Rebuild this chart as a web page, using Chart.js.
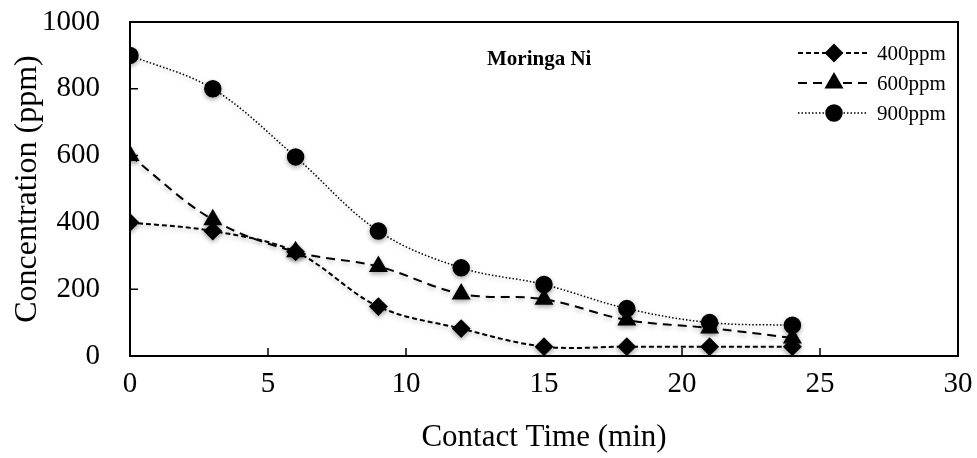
<!DOCTYPE html>
<html>
<head>
<meta charset="utf-8">
<script src="https://cdn.jsdelivr.net/npm/chart.js@4.4.1/dist/chart.umd.min.js"></script>
<style>
  html, body { margin: 0; padding: 0; background: #fff; }
  #wrap { width: 977px; height: 458px; }
</style>
</head>
<body>
<div id="wrap"><canvas id="canvas" width="977" height="458"></canvas></div>
<script>
// contact time (min)
var times = [0, 3, 6, 9, 12, 15, 18, 21, 24];

// concentration (ppm) for each starting level
var ppm400 = [400, 374, 312, 148, 82, 28, 28, 28, 28];
var ppm600 = [600, 408, 312, 268, 186, 170, 108, 84, 54];
var ppm900 = [900, 800, 596, 374, 264, 214, 142, 100, 92];

var seriesNames = ["400ppm", "600ppm", "900ppm"];
var xTicks = [0, 5, 10, 15, 20, 25, 30];
var yTicks = [0, 200, 400, 600, 800, 1000];

var serif = "'Liberation Serif', 'Times New Roman', serif";

function toPoints(values) {
  return times.map(function (t, i) {
    return { x: t, y: values[i] };
  });
}

// soft drop shadow under the series, like the original
var shadow = {
  id: "shadow",
  beforeDatasetsDraw: function (chart) {
    var ctx = chart.ctx;
    ctx.save();
    ctx.shadowColor = "rgba(0, 0, 0, 0.3)";
    ctx.shadowBlur = 5;
    ctx.shadowOffsetY = 2;
  },
  afterDatasetsDraw: function (chart) {
    chart.ctx.restore();
  }
};

// draws box, inward tick marks, the "Moringa Ni" label and the legend
var decorations = {
  id: "decorations",
  afterDraw: function (chart) {
    var ctx = chart.ctx;
    var area = chart.chartArea;
    var xs = chart.scales.x;
    var ys = chart.scales.y;

    ctx.save();
    ctx.strokeStyle = "#000";
    ctx.lineWidth = 2;
    ctx.setLineDash([]);
    ctx.strokeRect(area.left, area.top, area.right - area.left, area.bottom - area.top);

    ctx.lineWidth = 1.5;
    ctx.beginPath();
    xTicks.forEach(function (v) {
      var px = xs.getPixelForValue(v);
      ctx.moveTo(px, area.bottom);
      ctx.lineTo(px, area.bottom - 8);
    });
    yTicks.forEach(function (v) {
      var py = ys.getPixelForValue(v);
      ctx.moveTo(area.left, py);
      ctx.lineTo(area.left + 8, py);
    });
    ctx.stroke();

    // chart label
    ctx.fillStyle = "#000";
    ctx.font = "bold 21px " + serif;
    ctx.textAlign = "left";
    ctx.textBaseline = "middle";
    ctx.fillText("Moringa Ni", 487, 60);

    // legend: line sample with marker, then name
    ctx.font = "21px " + serif;
    chart.data.datasets.forEach(function (ds, i) {
      var y = 53 + i * 30;
      ctx.strokeStyle = "#000";
      ctx.lineWidth = ds.borderWidth;
      ctx.setLineDash(ds.borderDash);
      ctx.beginPath();
      ctx.moveTo(798, y);
      ctx.lineTo(868, y);
      ctx.stroke();
      ctx.setLineDash([]);
      Chart.helpers.drawPoint(ctx, {
        pointStyle: ds.pointStyle,
        radius: ds.pointRadius,
        rotation: 0,
        borderWidth: 1
      }, 834, y);
      ctx.fillStyle = "#000";
      ctx.fill();
      ctx.fillText(ds.label, 877, y + 1);
    });
    ctx.restore();
  }
};

var ctx = document.getElementById("canvas").getContext("2d");

var chart = new Chart(ctx, {
  type: "line",
  data: {
    datasets: [
      {
        label: seriesNames[0],
        data: toPoints(ppm400),
        borderColor: "#000",
        backgroundColor: "#000",
        borderWidth: 2,
        borderDash: [5, 3],
        pointStyle: "rectRot",
        pointRadius: 8,
        tension: 0.35
      },
      {
        label: seriesNames[1],
        data: toPoints(ppm600),
        borderColor: "#000",
        backgroundColor: "#000",
        borderWidth: 2,
        borderDash: [9, 6],
        pointStyle: "triangle",
        pointRadius: 9,
        tension: 0.35
      },
      {
        label: seriesNames[2],
        data: toPoints(ppm900),
        borderColor: "#000",
        backgroundColor: "#000",
        borderWidth: 1.5,
        borderDash: [1.5, 2],
        pointStyle: "circle",
        pointRadius: 8,
        tension: 0.35
      }
    ]
  },
  options: {
    responsive: false,
    animation: false,
    layout: { padding: { top: 22, right: 19, left: 0, bottom: 0 } },
    plugins: {
      legend: { display: false },
      tooltip: { enabled: false }
    },
    scales: {
      x: {
        type: "linear",
        min: 0,
        max: 30,
        afterBuildTicks: function (scale) {
          scale.ticks = xTicks.map(function (v) { return { value: v }; });
        },
        afterFit: function (scale) {
          scale.height = 102;
          scale.paddingLeft = 0;
          scale.paddingRight = 0;
        },
        grid: { display: false, drawTicks: false },
        border: { display: false },
        ticks: {
          color: "#000",
          padding: 11,
          maxRotation: 0,
          font: { family: serif, size: 29 },
          callback: function (v) { return String(v); }
        },
        title: {
          display: true,
          text: "Contact Time (min)",
          color: "#000",
          padding: { top: 0, bottom: 2 },
          font: { family: serif, size: 31 }
        }
      },
      y: {
        min: 0,
        max: 1000,
        afterBuildTicks: function (scale) {
          scale.ticks = yTicks.map(function (v) { return { value: v }; });
        },
        afterFit: function (scale) {
          scale.width = 130;
          scale.paddingTop = 0;
          scale.paddingBottom = 0;
        },
        grid: { display: false, drawTicks: false },
        border: { display: false },
        ticks: {
          color: "#000",
          padding: 30,
          font: { family: serif, size: 29 },
          callback: function (v) { return String(v); }
        },
        title: {
          display: true,
          text: "Concentration (ppm)",
          color: "#000",
          padding: { top: 8, bottom: 0 },
          font: { family: serif, size: 32 }
        }
      }
    }
  },
  plugins: [shadow, decorations]
});
</script>
</body>
</html>
